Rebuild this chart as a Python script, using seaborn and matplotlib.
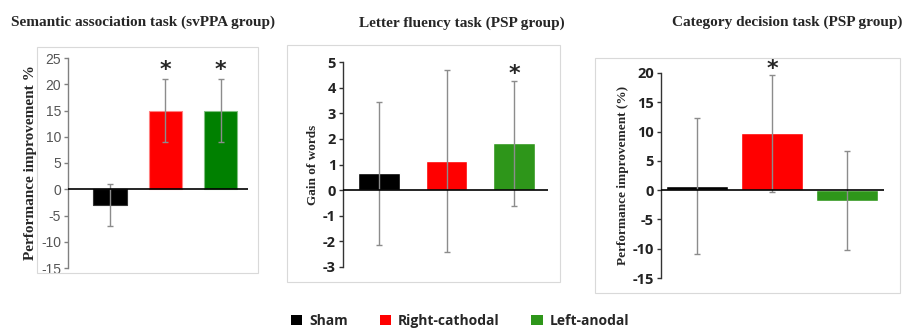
import matplotlib
matplotlib.use("Agg")
import matplotlib.pyplot as plt
import seaborn as sns
from matplotlib.patches import Rectangle, Patch

# Data
conditions = ["Sham", "Right-cathodal", "Left-anodal"]
colors_sem = ["#000000", "#ff0000", "#008000"]
colors_psp = ["#000000", "#ff0000", "#2e961a"]

sem_values = [-3.0, 15.0, 15.0]
sem_errors = [4.0, 6.0, 6.0]

fluency_values = [0.65, 1.15, 1.82]
fluency_errors = [2.8, 3.55, 2.42]

category_values = [0.7, 9.7, -1.8]
category_errors = [11.6, 10.0, 8.4]

sns.set_style("white")
plt.rcParams["font.family"] = ["Liberation Serif", "DejaVu Serif"]

W, H = 904, 332
fig = plt.figure(figsize=(W / 100, H / 100), dpi=100)


def px_axes(x0, x1, y_top, y_bot):
    return fig.add_axes([x0 / W, (H - y_bot) / H, (x1 - x0) / W, (y_bot - y_top) / H])


def frame(x0, x1, y_top, y_bot):
    fig.add_artist(Rectangle((x0 / W, (H - y_bot) / H), (x1 - x0) / W, (y_bot - y_top) / H,
                             transform=fig.transFigure, fill=False, edgecolor="#d9d9d9", lw=0.8))


def draw_panel(ax, values, errors, palette, width, ylim, yticks, xlim, ylabel, stars, star_y,
               tick_font, tick_color, spine_color, ylabel_size, edge=None):
    sns.barplot(x=conditions, y=values, hue=conditions, palette=palette, order=conditions,
                hue_order=conditions, width=width, legend=False, ax=ax, saturation=1)
    if edge:
        for bar, ec in zip(ax.patches, edge):
            bar.set_edgecolor(ec)
            bar.set_linewidth(0.8)
    ax.errorbar(range(3), values, yerr=errors, fmt="none", ecolor="#8c8c8c",
                elinewidth=1.0, capsize=2, capthick=1.0)
    ax.axhline(0, color="black", lw=1.2, zorder=5)
    ax.set_ylim(*ylim)
    ax.set_xlim(*xlim)
    ax.set_yticks(yticks)
    ax.set_yticklabels([str(t) for t in yticks], **tick_font, color=tick_color)
    ax.set_xticks([])
    ax.set_xlabel("")
    ax.set_ylabel(ylabel, fontsize=ylabel_size, fontweight="bold", labelpad=3)
    for s in ["top", "right", "bottom"]:
        ax.spines[s].set_visible(False)
    ax.spines["left"].set_color(spine_color)
    ax.spines["left"].set_linewidth(1.0)
    ax.tick_params(axis="y", direction="out", length=3, width=1.0, color=spine_color, pad=2,
                   left=True)
    ax.set_facecolor("none")
    for i in stars:
        ax.text(i, star_y, "*", ha="center", va="center", fontsize=16, fontweight="bold",
                family="DejaVu Sans")


# Panel 1
frame(37, 258, 47, 273)
ax1 = px_axes(68, 248, 58, 268)
draw_panel(ax1, sem_values, sem_errors, colors_sem, 0.6, (-15, 25), list(range(-15, 26, 5)),
           (-0.76, 2.49), "Performance improvement %", [1, 2], 22.7,
           dict(family="Liberation Sans", fontsize=10), "#555555", "#808080", 11,
           edge=["#333333", "#ff8080", "#80c080"])
fig.text(143 / W, 1 - 22 / H, "Semantic association task (svPPA group)", ha="center",
         va="center", fontsize=11, fontweight="bold")

# Panel 2
frame(287, 560, 45, 282)
ax2 = px_axes(343, 548, 62, 267)
draw_panel(ax2, fluency_values, fluency_errors, colors_psp, 0.62, (-3, 5), list(range(-3, 6)),
           (-0.53, 2.5), "Gain of words", [2], 4.55,
           dict(family="Open Sans", fontsize=10.5, fontweight="bold"), "#222222", "#333333", 9.5)
fig.text(462 / W, 1 - 23 / H, "Letter fluency task (PSP group)", ha="center",
         va="center", fontsize=11, fontweight="bold")

# Panel 3
frame(595, 900, 58, 293)
ax3 = px_axes(661, 884, 73, 278)
draw_panel(ax3, category_values, category_errors, colors_psp, 0.82, (-15, 20),
           list(range(-15, 21, 5)), (-0.48, 2.49), "Performance improvement (%)", [1], 20.6,
           dict(family="Open Sans", fontsize=10.5, fontweight="bold"), "#222222", "#333333", 9.5)
fig.text(787 / W, 1 - 22 / H, "Category decision task (PSP group)", ha="center",
         va="center", fontsize=11, fontweight="bold")

# Legend
handles = [Patch(facecolor=c, edgecolor="none") for c in colors_psp]
fig.legend(handles, conditions, loc="center", bbox_to_anchor=(0.509, 1 - 321 / H), ncol=3,
           frameon=False, handlelength=0.8, handleheight=0.8, handletextpad=0.5,
           columnspacing=2.3, prop=dict(family="Open Sans", weight="bold", size=10))

fig.savefig("out.png", dpi=100)
